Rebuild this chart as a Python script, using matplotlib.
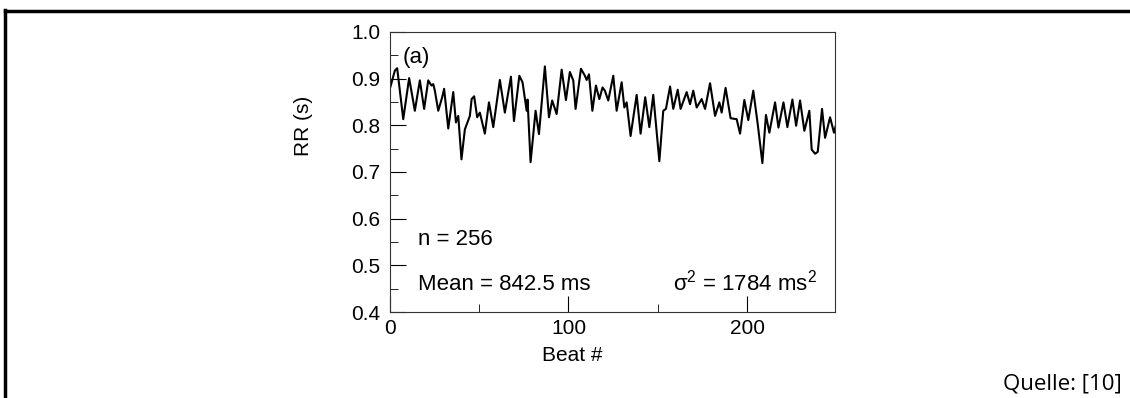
import matplotlib.pyplot as plt
from matplotlib.lines import Line2D
from matplotlib.ticker import MultipleLocator

# RR series (beat index, RR in s) at the line's turning points
beat = [0.0, 2.8, 4.1, 5.6, 7.5, 10.8, 14.0, 16.8, 19.2, 21.5, 23.3, 24.3, 25.2, 27.1,
        29.3, 30.4, 32.7, 35.5, 37.0, 38.3, 40.1, 42.0, 44.8, 45.8, 47.2, 48.9, 50.4,
        53.2, 55.5, 57.9, 61.6, 64.4, 67.8, 69.5, 72.5, 74.3, 76.6, 77.1, 78.8, 81.6,
        83.5, 86.8, 89.1, 90.9, 93.4, 96.2, 98.6, 100.8, 102.7, 104.0, 107.0, 109.2,
        110.2, 111.5, 113.4, 115.4, 117.3, 119.1, 120.4, 122.3, 125.1, 127.0, 129.8,
        131.3, 132.6, 134.8, 138.2, 140.4, 143.0, 145.3, 147.5, 150.9, 153.1, 154.6,
        156.9, 158.7, 161.2, 162.8, 166.2, 168.1, 169.9, 171.8, 174.6, 176.5, 179.3,
        182.1, 184.5, 185.8, 188.0, 190.8, 194.2, 196.1, 198.5, 200.7, 203.5, 206.0,
        208.6, 210.6, 212.5, 215.7, 217.6, 220.4, 222.6, 225.4, 227.5, 229.7, 232.1,
        234.9, 236.2, 238.1, 239.6, 242.0, 243.7, 246.5, 248.7, 249.7]
rr = [0.878, 0.917, 0.922, 0.874, 0.813, 0.901, 0.831, 0.896, 0.835, 0.896, 0.885, 0.888,
      0.874, 0.831, 0.860, 0.878, 0.793, 0.871, 0.806, 0.820, 0.727, 0.791, 0.820, 0.856,
      0.862, 0.817, 0.827, 0.782, 0.849, 0.796, 0.897, 0.827, 0.904, 0.809, 0.906, 0.892,
      0.831, 0.855, 0.721, 0.831, 0.781, 0.926, 0.817, 0.853, 0.824, 0.919, 0.854, 0.914,
      0.896, 0.835, 0.921, 0.906, 0.897, 0.909, 0.831, 0.885, 0.856, 0.881, 0.874, 0.853,
      0.906, 0.831, 0.892, 0.838, 0.849, 0.777, 0.865, 0.782, 0.860, 0.796, 0.865, 0.723,
      0.831, 0.835, 0.883, 0.835, 0.876, 0.835, 0.871, 0.845, 0.874, 0.838, 0.856, 0.835,
      0.890, 0.820, 0.849, 0.827, 0.880, 0.815, 0.813, 0.782, 0.854, 0.811, 0.874, 0.802,
      0.719, 0.822, 0.784, 0.849, 0.795, 0.849, 0.796, 0.855, 0.799, 0.853, 0.788, 0.831,
      0.748, 0.739, 0.743, 0.835, 0.773, 0.817, 0.784, 0.799]

x_ticks = [0, 100, 200]
y_ticks = [0.4, 0.5, 0.6, 0.7, 0.8, 0.9, 1.0]


def main():
    plt.rcParams['font.family'] = ['Liberation Sans', 'DejaVu Sans']

    fig = plt.figure(figsize=(11.3, 3.98), dpi=100)
    ax = fig.add_axes([0.345, 0.216, 0.394, 0.704])

    ax.plot(beat, rr, color='black', lw=1.5)
    ax.set_xlim(0, 249.3)
    ax.set_ylim(0.4, 1.0)

    ax.set_xticks(x_ticks)
    ax.set_yticks(y_ticks)
    ax.set_yticklabels([f"{v:.1f}" for v in y_ticks])
    ax.xaxis.set_minor_locator(MultipleLocator(50))
    ax.yaxis.set_minor_locator(MultipleLocator(0.05))
    ax.tick_params(which='both', direction='in', top=False, right=False, labelsize=15)
    ax.tick_params(axis='y', which='major', length=11.5, pad=7)
    ax.tick_params(axis='x', which='major', length=11.5, pad=5)
    ax.tick_params(which='minor', length=5.5)
    for s in ax.spines.values():
        s.set_linewidth(0.8)
        s.set_color('#333333')

    ax.set_ylabel("RR (s)", fontsize=15)
    ax.yaxis.set_label_coords(-0.173, 0.664)
    ax.set_xlabel("Beat #", fontsize=15)
    ax.xaxis.set_label_coords(0.409, -0.12)

    ax.text(7.3, 0.945, "(a)", fontsize=16, va='center')
    ax.text(15.7, 0.543, "n = 256", fontsize=16, va='baseline')
    ax.text(15.7, 0.447, "Mean = 842.5 ms", fontsize=16, va='baseline')
    ax.text(239, 0.447, r"$\mathregular{\sigma^2}$ = 1784 ms$\mathregular{^2}$",
            fontsize=16, va='baseline', ha='right')

    fig.text(0.993, 0.008, "Quelle: [10]", fontsize=16, ha='right', va='bottom',
             family=['Open Sans', 'DejaVu Sans'])

    # frame lines of the page
    fig.add_artist(Line2D([5 / 1130, 1], [1 - 11 / 398] * 2, color='black', lw=2.5))
    fig.add_artist(Line2D([5 / 1130] * 2, [0, 1 - 10 / 398], color='black', lw=2.5))

    fig.savefig("out.png", dpi=100)


if __name__ == "__main__":
    main()
